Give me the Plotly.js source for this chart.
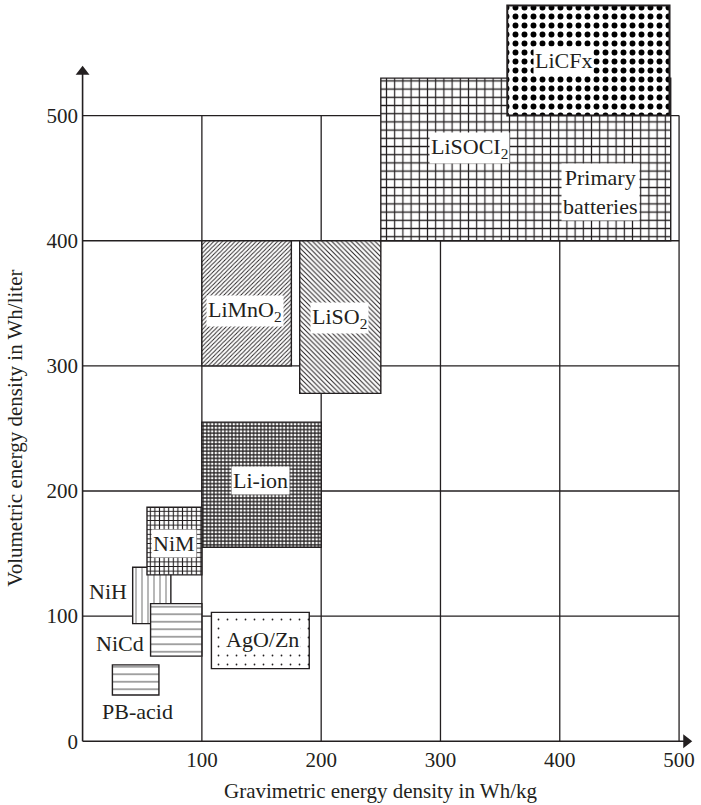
<!DOCTYPE html>
<html>
<head>
<meta charset="utf-8">
<script src="https://cdn.plot.ly/plotly-3.0.1.min.js"></script>
<style>html,body{margin:0;padding:0;background:#fff;}#chart{width:701px;height:805px;}</style>
</head>
<body>
<div id="chart"></div>
<script>
// ---- data (Wh/kg, Wh/liter) ----
const batteries = ['LiSOCl2', 'LiCFx', 'LiMnO2', 'LiSO2', 'Li-ion', 'NiH', 'NiM', 'NiCd', 'PB-acid', 'AgO/Zn'];
const gravMin = [250, 356, 100, 182, 100, 42, 54, 57, 25, 108];
const gravMax = [493, 492, 175, 250, 200, 74, 100, 100, 64, 190];
const volMin  = [400, 500, 300, 278, 155, 94, 133, 68, 37, 58];
const volMax  = [530, 588, 400, 400, 255, 139, 187, 110, 61, 103];

const labelText = ['LiSOCI<sub>2</sub>', 'LiCFx', 'LiMnO<sub>2</sub>', 'LiSO<sub>2</sub>', 'Li-ion', 'NiH', 'NiM', 'NiCd', 'PB-acid', 'AgO/Zn', 'Primary<br>batteries'];
const labelX = [324, 403, 136, 215, 149, 21, 77, 31, 46, 151, 434];
const labelY = [474, 544, 344, 338, 208, 120, 158, 78, 24, 81, 439];

const xTicks = [100, 200, 300, 400, 500];
const yTicks = [0, 100, 200, 300, 400, 500];
const gridMax = 500;
const axisEndX = 506;
const axisEndY = 535;

// ---- styles ----
const ink = '#231f20';
const FONT = 'Liberation Serif, Times New Roman, serif';
const patterns = {
  'LiSOCl2': {shape: '+', size: 8.2, solidity: 0.27, fgcolor: ink},
  'LiCFx':   {shape: '.', size: 9, solidity: 0.34, fgcolor: '#000'},
  'LiMnO2':  {shape: '/', size: 3.0, solidity: 0.3, fgcolor: ink},
  'LiSO2':   {shape: '\\', size: 3.4, solidity: 0.3, fgcolor: ink},
  'Li-ion':  {shape: '+', size: 3.6, solidity: 0.55, fgcolor: ink},
  'NiH':     {shape: '|', size: 6, solidity: 0.14, fgcolor: '#555'},
  'NiM':     {shape: '+', size: 4.6, solidity: 0.42, fgcolor: ink},
  'NiCd':    {shape: '-', size: 7.5, solidity: 0.14, fgcolor: '#555'},
  'PB-acid': {shape: '-', size: 7.5, solidity: 0.14, fgcolor: '#555'},
  'AgO/Zn':  {shape: '.', size: 9, solidity: 0.03, fgcolor: ink}
};

const traces = batteries.map((name, i) => ({
  type: 'bar',
  name: name,
  x: [(gravMin[i] + gravMax[i]) / 2],
  width: [gravMax[i] - gravMin[i]],
  base: [volMin[i]],
  y: [volMax[i] - volMin[i]],
  marker: {
    color: '#ffffff',
    pattern: Object.assign({bgcolor: '#ffffff', fillmode: 'replace'}, patterns[name]),
    line: {color: ink, width: name === 'LiCFx' ? 2 : 1.4}
  },
  cliponaxis: false,
  hoverinfo: 'skip',
  showlegend: false
}));
// axis arrowheads
traces.push({type: 'scatter', mode: 'markers', x: [0], y: [axisEndY], marker: {symbol: 'triangle-up', size: 12, color: ink}, cliponaxis: false, hoverinfo: 'skip', showlegend: false});
traces.push({type: 'scatter', mode: 'markers', x: [axisEndX], y: [0], marker: {symbol: 'triangle-right', size: 12, color: ink}, cliponaxis: false, hoverinfo: 'skip', showlegend: false});

const shapes = [];
xTicks.forEach(v => shapes.push({type: 'line', xref: 'x', yref: 'y', x0: v, x1: v, y0: 0, y1: gridMax, layer: 'below', line: {color: ink, width: 1.3}}));
yTicks.filter(v => v > 0).forEach(v => shapes.push({type: 'line', xref: 'x', yref: 'y', x0: 0, x1: gridMax, y0: v, y1: v, layer: 'below', line: {color: ink, width: 1.3}}));
// axes
shapes.push({type: 'line', xref: 'x', yref: 'y', x0: 0, x1: 0, y0: 0, y1: axisEndY, layer: 'below', line: {color: ink, width: 1.6}});
shapes.push({type: 'line', xref: 'x', yref: 'y', x0: 0, x1: axisEndX, y0: 0, y1: 0, layer: 'below', line: {color: ink, width: 1.6}});

const annotations = labelText.map((t, i) => ({
  x: labelX[i], y: labelY[i], xref: 'x', yref: 'y', text: t, showarrow: false,
  font: {family: FONT, size: 22, color: ink},
  bgcolor: (i === 5 || i === 7 || i === 8) ? 'rgba(0,0,0,0)' : '#ffffff',
  borderpad: 1
}));
// axis titles
annotations.push({x: 250, y: -0.062, xref: 'x', yref: 'paper', yanchor: 'middle', text: 'Gravimetric energy density in Wh/kg', showarrow: false, font: {family: FONT, size: 21, color: ink}});
annotations.push({x: -0.104, y: 250, xref: 'paper', yref: 'y', xanchor: 'center', text: 'Volumetric energy density in Wh/liter', textangle: -90, showarrow: false, font: {family: FONT, size: 21, color: ink}});

const layout = {
  width: 701, height: 805,
  margin: {l: 79, r: 10, t: 3, b: 60},
  paper_bgcolor: '#ffffff', plot_bgcolor: '#ffffff',
  barmode: 'overlay',
  showlegend: false,
  xaxis: {range: [-3, 510], showgrid: false, zeroline: false, showline: false, ticks: '', tickvals: xTicks, ticktext: xTicks.map(String), tickfont: {family: FONT, size: 21, color: ink}},
  yaxis: {range: [-3, 590], showgrid: false, zeroline: false, showline: false, ticks: '', tickvals: yTicks, ticktext: yTicks.map(String), tickfont: {family: FONT, size: 21, color: ink}},
  shapes: shapes,
  annotations: annotations,
  font: {family: FONT, color: ink}
};

Plotly.newPlot('chart', traces, layout, {staticPlot: true});
</script>
</body>
</html>
